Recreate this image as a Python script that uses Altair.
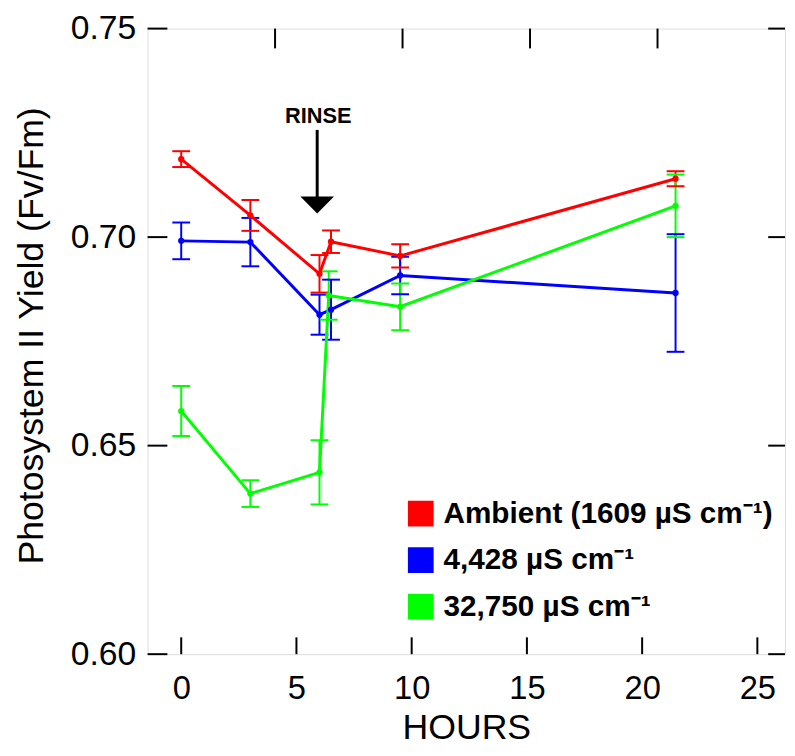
import altair as alt
import pandas as pd

# ---------------- data ----------------
series = ["Ambient (1609 µS cm⁻¹)", "4,428 µS cm⁻¹", "32,750 µS cm⁻¹"]
colors = ["#ff0000", "#0000ff", "#00ff00"]

hours_red = [0, 3, 6, 6.5, 9.5, 21.45]
yield_red = [0.7187, 0.7052, 0.6912, 0.6989, 0.6955, 0.7140]
err_red = [0.0019, 0.0037, 0.0045, 0.0027, 0.0028, 0.0018]

hours_blue = [0, 3, 6, 6.5, 9.5, 21.45]
yield_blue = [0.6991, 0.6988, 0.6814, 0.6826, 0.6908, 0.6866]
err_blue = [0.0044, 0.0058, 0.0048, 0.0072, 0.0045, 0.0141]

hours_green = [0, 3, 6, 6.4, 9.5, 21.45]
yield_green = [0.6583, 0.6385, 0.6436, 0.6860, 0.6833, 0.7075]
err_green = [0.0060, 0.0032, 0.0077, 0.0058, 0.0056, 0.0075]

x_ticks = [0, 5, 10, 15, 20, 25]
y_ticks = [0.60, 0.65, 0.70, 0.75]
x_domain = [-1.46, 26.2]
y_domain = [0.60, 0.75]

rinse_hour = 5.9
rinse_top = 0.7257
rinse_bottom = 0.7088
rinse_head = 0.7077
rinse_label_y = 0.7274

# ---------------- tables ----------------
rows = []
for name, hs, ys, es in [
    (series[0], hours_red, yield_red, err_red),
    (series[1], hours_blue, yield_blue, err_blue),
    (series[2], hours_green, yield_green, err_green),
]:
    for h, v, e in zip(hs, ys, es):
        rows.append({"series": name, "hour": h, "value": v, "lo": v - e, "hi": v + e})
df = pd.DataFrame(rows)

# top frame ticks split the width into five equal parts
span = x_domain[1] - x_domain[0]
top_ticks = pd.DataFrame({"hour": [x_domain[0] + k * span / 5 for k in range(1, 5)]})
bottom_ticks = pd.DataFrame({"hour": x_ticks})
side_ticks = pd.DataFrame({"value": y_ticks})
arrow_df = pd.DataFrame({"hour": [rinse_hour], "value": [rinse_top], "value2": [rinse_bottom],
                         "head": [rinse_head]})
label_df = pd.DataFrame({"hour": [rinse_hour + 0.05], "value": [rinse_label_y], "txt": ["RINSE"]})

W, H = 644, 632
FONT = "Liberation Sans"

xs = alt.Scale(domain=x_domain, nice=False, zero=False)
ys = alt.Scale(domain=y_domain, nice=False, zero=False)
x_axis = alt.Axis(values=x_ticks, tickSize=0, domain=False, grid=False,
                  labelFontSize=33, labelFont=FONT, labelColor="black", labelPadding=19,
                  title="HOURS", titleFont=FONT, titleFontSize=36, titleFontWeight="normal",
                  titleColor="black", titleBaseline="alphabetic", titleY=85)
y_axis = alt.Axis(values=y_ticks, format=".2f", tickSize=0, domain=False, grid=False,
                  labelFontSize=34, labelFont=FONT, labelColor="black", labelPadding=12,
                  title="Photosystem II Yield (Fv/Fm)", titleFont=FONT, titleFontSize=36,
                  titleFontWeight="normal", titleColor="black", titleBaseline="alphabetic",
                  titleX=-106, titleY=310, titleAngle=270)

X = alt.X("hour:Q", scale=xs, axis=x_axis)
Y = alt.Y("value:Q", scale=ys, axis=y_axis)
color_scale = alt.Scale(domain=series, range=colors)
C_none = alt.Color("series:N", scale=color_scale, legend=None)
C_leg = alt.Color("series:N", scale=color_scale, sort=series,
                  legend=alt.Legend(title=None, orient="none", legendX=261, legendY=475,
                                    symbolType="square", symbolSize=676, symbolStrokeWidth=0,
                                    symbolOpacity=1, labelFont=FONT, labelFontWeight="bold",
                                    labelFontSize=30, labelColor="black", labelOffset=8,
                                    labelLimit=600, rowPadding=17, padding=0))

base = alt.Chart(df)
err = base.mark_rule(strokeWidth=2).encode(x=X, y=alt.Y("lo:Q", scale=ys, axis=y_axis), y2="hi:Q", color=C_none)
cap_lo = base.mark_tick(orient="horizontal", size=18, thickness=2, opacity=1).encode(
    x=X, y=alt.Y("lo:Q", scale=ys, axis=y_axis), color=C_none)
cap_hi = base.mark_tick(orient="horizontal", size=18, thickness=2, opacity=1).encode(
    x=X, y=alt.Y("hi:Q", scale=ys, axis=y_axis), color=C_none)
lines = base.mark_line(strokeWidth=3).encode(x=X, y=Y, color=C_none, order="hour:Q")
pts = base.mark_point(filled=True, shape="circle", size=40, opacity=1).encode(x=X, y=Y, color=C_leg)

tick_l = alt.Chart(side_ticks).mark_rule(color="black", strokeWidth=2).encode(
    y=Y, x=alt.value(0), x2=alt.value(20))
tick_r = alt.Chart(side_ticks).mark_rule(color="black", strokeWidth=2).encode(
    y=Y, x=alt.value(W - 17), x2=alt.value(W))
tick_b = alt.Chart(bottom_ticks).mark_rule(color="black", strokeWidth=2).encode(
    x=X, y=alt.value(H), y2=alt.value(H - 17))
tick_t = alt.Chart(top_ticks).mark_rule(color="black", strokeWidth=2).encode(
    x=X, y=alt.value(0), y2=alt.value(20))

arrow = alt.Chart(arrow_df).mark_rule(color="black", strokeWidth=3).encode(
    x=X, y=Y, y2="value2:Q")
head = alt.Chart(arrow_df).mark_point(filled=True, shape="M-1,-0.5L1,-0.5L0,0.5Z", size=1156,
                                      color="black", opacity=1, strokeWidth=0).encode(
    x=X, y=alt.Y("head:Q", scale=ys, axis=y_axis))
label = alt.Chart(label_df).mark_text(font=FONT, fontWeight="bold", fontSize=22, color="black",
                                       baseline="alphabetic", align="center").encode(
    x=X, y=Y, text="txt:N")

chart = alt.layer(
    tick_l, tick_r, tick_b, tick_t, arrow, head, label,
    err, cap_lo, cap_hi, lines, pts,
).resolve_legend(color="independent").properties(
    width=W, height=H, autosize="none",
    padding={"left": 141, "top": 17, "right": 2, "bottom": 91},
).configure_view(stroke="black", strokeWidth=2).configure(background="white")

chart.save("out.html", embed_options={"renderer": "svg", "actions": False})
